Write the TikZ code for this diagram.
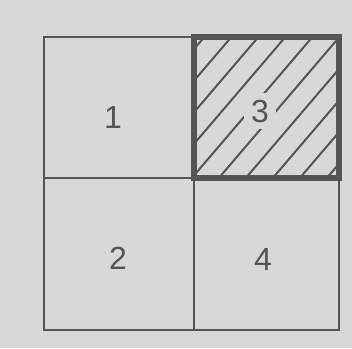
\documentclass[tikz,border=0pt]{standalone}
\usepackage{fontspec}
\setmainfont{Liberation Sans}
\definecolor{paper}{RGB}{216,216,212}
\definecolor{ink}{RGB}{85,85,82}
\begin{document}
\begin{tikzpicture}[x=1pt, y=-1pt,
    cell/.style={draw=ink, line width=2.2pt},
    thickcell/.style={draw=ink, line width=5.5pt},
    hatch/.style={ink, line width=2pt},
    num/.style={text=ink, font=\fontsize{32}{34}\selectfont, inner sep=4pt}]
    % Фон
    \fill[paper] (0,0) rectangle (352,348);

    % Углы сетки
    \coordinate (NW) at (44,37);
    \coordinate (SE) at (339,330);
    \coordinate (C) at (194,178);
    \coordinate (NE) at (339,37);

    % Штриховка квадрата 3 (наклон ~50 градусов)
    \begin{scope}
        \clip (C) rectangle (NE);
        \foreach \c in {209,236,...,506}
            \draw[hatch] (\c-171,200) -- (\c,0);
    \end{scope}

    % Номера
    \node[num] (n1) at (113,117) {1};
    \node[num] (n2) at (118,258) {2};
    \node[num, fill=paper, inner sep=7pt] (n3) at (260,111) {3};
    \node[num] (n4) at (263,259) {4};

    % Клетки
    \draw[cell] (NW) rectangle (SE);
    \draw[cell] (C |- NW) -- (C |- SE);
    \draw[cell] (NW |- C) -- (SE |- C);
    \draw[thickcell] (C) rectangle (NE);
\end{tikzpicture}
\end{document}
